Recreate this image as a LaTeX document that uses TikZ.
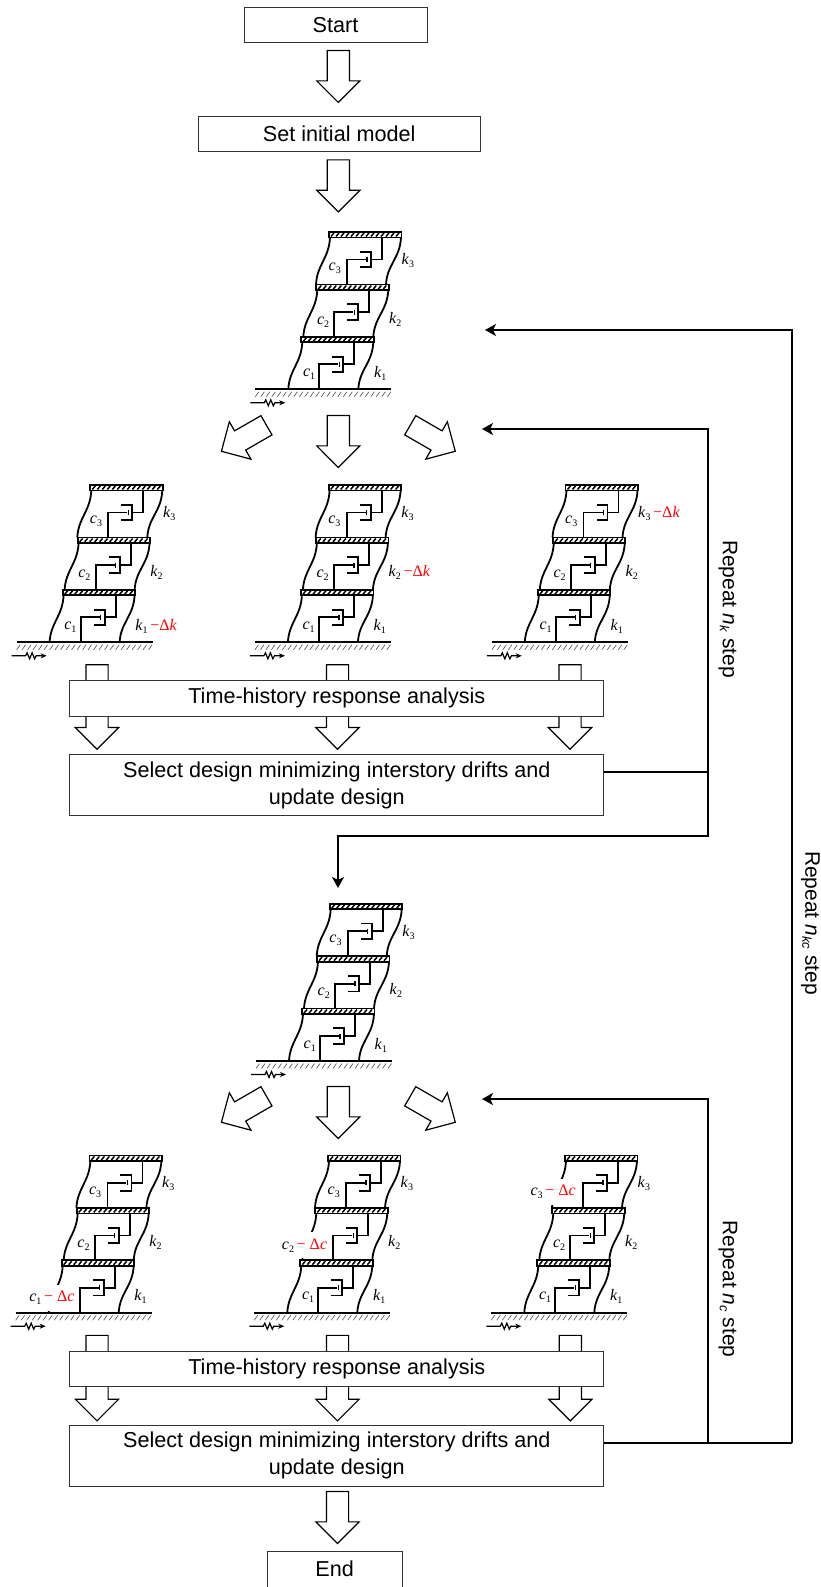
\documentclass[tikz,border=0pt]{standalone}
\usepackage{fontspec}
\setmainfont{Liberation Sans}
\newfontfamily\symfont{Liberation Serif}
\usetikzlibrary{arrows.meta,shapes.arrows}
\newcommand\lowidx[1]{\raisebox{-3pt}{\fontsize{10}{10}\selectfont #1}}
\newcommand\sym[2]{{\symfont\fontsize{16}{16}\selectfont\textit{#1}\lowidx{#2}}}
\newcommand\cutk{{\symfont\fontsize{16}{16}\selectfont\color{red}\,−Δ\textit{k}}}
\newcommand\cutc{{\symfont\fontsize{16}{16}\selectfont\color{red}\,− Δ\textit{c}}}
\newcommand\repeattext[1]{\textit{n}\lowidx{\fontsize{13}{13}\selectfont\textit{#1}}}
\tikzset{
    flowbox/.style={draw=black!80, line width=0.9pt, fill=white, inner sep=0pt, align=center,
        font=\fontsize{21.6}{27}\selectfont},
    blockarrow/.style={single arrow, draw=black, line width=1.2pt, fill=white, inner xsep=0pt, inner ysep=10.5pt,
        single arrow tip angle=90, single arrow head extend=10.5pt, anchor=tip},
    member/.style={line width=1.8pt},
    thinmember/.style={line width=1.2pt},
    slabhatch/.style={line width=1.5pt},
    groundhatch/.style={line width=0.6pt, black!70},
    feedback/.style={line width=2pt},
    backarrow/.style={line width=2pt, -{Stealth[length=11pt,width=12pt,inset=3pt]}},
    looplabel/.style={rotate=-90, inner sep=0pt, font=\fontsize{21}{27}\selectfont},
    elemlabel/.style={inner sep=0pt},
    cutlabel/.style={inner xsep=1pt, inner ysep=0pt, fill=white, minimum height=26pt}
}
% name, position, story of the cut spring, story of the cut damper
\newcommand\buildframe[4]{
    \begin{scope}[shift={(#2)}]
        % ground
        \draw[member] (-33,0) -- (103,0);
        \foreach \h in {-33,-27.5,...,100}{
            \draw[groundhatch] (\h,7.5) -- (\h+3.5,2.5);
        }
        \draw[thinmember,-{Stealth[length=6pt,width=5pt]}] (-38,13.5) -- (-24,13.5) -- (-22.5,10.5)
            -- (-20,16.5) -- (-17.5,10.5) -- (-15,16.5) -- (-13.5,13.5) -- (-3,13.5);
        % stories
        \foreach \i/\bx/\by/\ky/\cy/\cr in {1/0/0/-16/-15/27,2/15/-52.3/-18/-15/26,3/27.7/-104.8/-24/-16/25}{
            \draw[member] (\bx,\by) .. controls (\bx+1,\by-20) and (\bx+13,\by-26) .. (\bx+14,\by-47);
            \draw[member] (\bx+70,\by) .. controls (\bx+71,\by-20) and (\bx+84,\by-26) .. (\bx+85,\by-47);
            \draw[member,fill=white] (\bx+13,\by-47) rectangle (\bx+85.5,\by-52.5);
            \foreach \h in {2,7,...,68}{
                \draw[slabhatch] (\bx+13+\h,\by-48) -- (\bx+13+\h+3,\by-51.5);
            }
            % damper
            \draw[member] (\bx+31,\by) |- (\bx+50,\by-25);
            \draw[thinmember] (\bx+51,\by-27.5) -- (\bx+51,\by-22.5);
            \draw[member] (\bx+44,\by-32.7) -- (\bx+55,\by-32.7) -- (\bx+55,\by-17.3) -- (\bx+44,\by-17.3);
            \draw[member] (\bx+55,\by-25) -| (\bx+66,\by-47);
            % labels
            \ifnum\i=#3
                \node[elemlabel,anchor=west] (#1k\i) at (\bx+85.5,\by+\ky) {\sym{k}{\i}\cutk};
            \else
                \node[elemlabel,anchor=west] (#1k\i) at (\bx+85.5,\by+\ky) {\sym{k}{\i}};
            \fi
            \ifnum\i=#4
                \node[cutlabel,anchor=east] (#1c\i) at (\bx+\cr,\by+\cy) {\sym{c}{\i}\cutc};
            \else
                \node[elemlabel,anchor=east] (#1c\i) at (\bx+\cr,\by+\cy) {\sym{c}{\i}};
            \fi
        }
    \end{scope}
}
\begin{document}
\begin{tikzpicture}[x=1pt,y=-1pt]
    \useasboundingbox (0,0) rectangle (821,1587);
% block arrows
    \foreach \v/\x/\y/\l/\r in {a1/338.3/103.3/52/-90,a2/338.3/212.7/52/-90,
        a3/338.3/468.3/52/-90,a4/220.7/451.7/52/-150,a5/456/451.7/52/-30,
        a6/97/750/84.5/-90,a7/337.5/750/84.5/-90,a8/570/750/84.5/-90,
        a9/338.3/1139.3/52/-90,a10/220.7/1122.7/52/-150,a11/456/1122.7/52/-30,
        a12/97/1421.7/85.5/-90,a13/337.5/1421.7/85.5/-90,a14/570.4/1421.7/85.5/-90,
        a15/337.5/1544.3/52/-90}{
        \node[blockarrow,minimum height=\l pt,rotate=\r] (\v) at (\x,\y) {};
    }
% boxes
    \node[flowbox,minimum width=183pt,minimum height=35pt] (start) at (335.5,24.8) {Start};
    \node[flowbox,minimum width=281.7pt,minimum height=35pt] (model) at (339.2,134.2) {Set initial model};
    \node[flowbox,minimum width=534pt,minimum height=35.5pt] (timeA) at (336.8,698.4) {Time-history response analysis};
    \node[flowbox,minimum width=534pt,minimum height=61.4pt] (selectA) at (336.8,785) {Select design minimizing interstory drifts and\\update design};
    \node[flowbox,minimum width=534pt,minimum height=35pt] (timeB) at (336.8,1369.2) {Time-history response analysis};
    \node[flowbox,minimum width=534pt,minimum height=61.7pt] (selectB) at (336.8,1455.8) {Select design minimizing interstory drifts and\\update design};
    \node[flowbox,minimum width=134.6pt,minimum height=35.5pt] (stop) at (334.7,1569.2) {End};
% frames
    \buildframe{top}{288.3,389.3}{0}{0}
    \buildframe{ka}{49.6,642.3}{1}{0}
    \buildframe{kb}{287.9,642.3}{2}{0}
    \buildframe{kc}{524.8,642.3}{3}{0}
    \buildframe{mid}{289,1061}{0}{0}
    \buildframe{ca}{48.7,1312.7}{0}{1}
    \buildframe{cb}{287.3,1312.7}{0}{2}
    \buildframe{cc}{524.3,1312.7}{0}{3}
% loops
    \coordinate (joinK) at (708,772);
    \coordinate (joinC) at (708,1443);
    \coordinate (joinKC) at (792,1443);
    \coordinate (inK) at (482,429);
    \coordinate (inC) at (482,1099);
    \coordinate (inKC) at (485,330);
    \coordinate (turnK) at (708,836);
    \coordinate (inMid) at (338,888);
    \draw[feedback] (selectA.east |- joinK) -- (joinK);
    \draw[backarrow] (joinK) |- (inK);
    \draw[backarrow] (joinK) -- (turnK) -| (inMid);
    \draw[feedback] (selectB.east |- joinC) -- (joinKC);
    \draw[backarrow] (joinC) |- (inC);
    \draw[backarrow] (joinKC) |- (inKC);
    \node[looplabel] (loopK) at (728,609) {Repeat \repeattext{k} step};
    \node[looplabel] (loopC) at (728,1289) {Repeat \repeattext{c} step};
    \node[looplabel] (loopKC) at (810.5,923) {Repeat \repeattext{kc} step};
\end{tikzpicture}
\end{document}
